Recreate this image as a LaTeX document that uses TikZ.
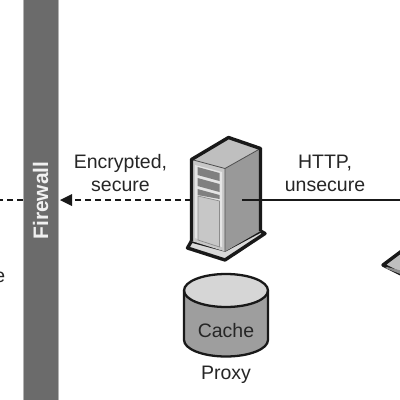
\documentclass[tikz,border=0pt]{standalone}
\usepackage{fontspec}
\setmainfont{Liberation Sans}
\tikzset{
  lbl/.style={font=\fontsize{19.5}{22}\selectfont,text=black!85,inner sep=0pt},
  outl/.style={draw=black!90,line width=3.4pt,line join=round},
  conn/.style={draw=black!90,line width=1.5pt},
  fwall/.style={fill=black!58,draw=black!30,line width=0.8pt},
  barf/.style={fill=black!50}
}
\begin{document}
\begin{tikzpicture}[x=1pt,y=-1pt]
\useasboundingbox (0,0) rectangle (400,400);
\clip (0,0) rectangle (400,400);
\fill[white] (0,0) rectangle (400,400);
% firewall
\path[fwall] (23,-3) rectangle (58.5,403);
\node[rotate=90,text=black!6,font=\bfseries\fontsize{21}{24}\selectfont,inner sep=0pt] (fw) at (40.5,200.5) {Firewall};
\coordinate (fwL) at (23,200);
\coordinate (fwR) at (72,200);
\coordinate (edgeL) at (0,200);
\coordinate (edgeR) at (400,200);
\coordinate (srvF) at (191,200);
\coordinate (srvC) at (242,200);
% server
\path[outl,fill=black!15] (187.5,248) -- (225,260) -- (265,233.5) -- (260.5,231) -- (225,250) -- (191.5,241) -- cycle;
\path[fill=black!40] (225,168.5) -- (260.5,148.5) -- (260.5,231) -- (225,251.5) -- cycle;
\path[fill=black!22] (191.5,159.5) -- (225,168.5) -- (225,251.5) -- (191.5,241) -- cycle;
\path[fill=black!25] (191.5,159.5) -- (228.5,137.5) -- (260.5,148.5) -- (225,168.5) -- cycle;
\draw[line width=0.8pt,draw=black!70] (191.5,159.5) -- (225,168.5) -- (260.5,148.5) (225,168.5) -- (225,251.5);
\path[outl,fill=none] (191.5,241) -- (191.5,159.5) -- (228.5,137.5) -- (260.5,148.5) -- (260.5,231);
\path[fill=black!10] (195,165) -- (222,172) -- (222,247) -- (195,238) -- cycle;
\path[barf] (197.5,167) -- (219.5,173) -- (219.5,181) -- (197.5,175) -- cycle;
\path[barf] (197.5,178) -- (219.5,184) -- (219.5,192) -- (197.5,186) -- cycle;
\path[barf] (197.5,189) -- (219.5,195) -- (219.5,199) -- (197.5,195) -- cycle;
\path[fill=black!22,draw=black!45,line width=0.7pt] (198,196) -- (219.5,201) -- (219.5,247) -- (198,240) -- cycle;
% connectors
\draw[conn,dash pattern=on 6pt off 4pt] (srvF) -- (fwR);
\draw[conn,dash pattern=on 6pt off 4pt] (fwL) -- (edgeL);
\draw[conn] (srvC) -- (edgeR);
\fill[black!90] (60,200) -- (72,194) -- (72,206) -- cycle;
% cylinder
\path[fill=black!38] (184,290.5) -- (184,340) arc[start angle=180,end angle=0,x radius=42,y radius=16.5] -- (268,290.5) -- cycle;
\path[fill=black!16] (226,290.5) ellipse[x radius=42,y radius=16.5];
\draw[line width=2.3pt,draw=black!90] (184,290.5) -- (184,340) arc[start angle=180,end angle=0,x radius=42,y radius=16.5] -- (268,290.5);
\draw[line width=2.3pt,draw=black!90] (226,290.5) ellipse[x radius=42,y radius=16.5];
% laptop
\path[outl,fill=black!25] (383,265) -- (403,250) -- (403,275) -- cycle;
\path[fill=black!45] (387,267) -- (403,271) -- (403,275) -- (385,268) -- cycle;
% labels
\node[lbl] (enc) at (120.5,163.5) {Encrypted,};
\node[lbl] (sec) at (120.5,186) {secure};
\node[lbl] (http) at (325,163.5) {HTTP,};
\node[lbl] (uns) at (325,186) {unsecure};
\node[lbl] (cache) at (226,330.5) {Cache};
\node[lbl] (proxy) at (226,374.5) {Proxy};
\node[lbl,anchor=east] (cut) at (5.5,277) {e};
\end{tikzpicture}
\end{document}
